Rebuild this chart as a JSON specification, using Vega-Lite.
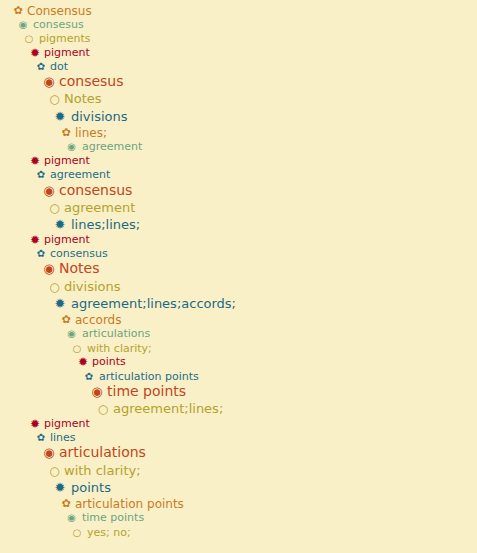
{
  "$schema": "https://vega.github.io/schema/vega-lite/v6.json",
  "description": "Nested outline of notes on consensus and pigments",
  "width": 477,
  "height": 553,
  "padding": 0,
  "autosize": {"type": "none"},
  "data": {
    "values": [
      {"row": 1, "depth": 0, "label": "Consensus"},
      {"row": 2, "depth": 1, "label": "consesus"},
      {"row": 3, "depth": 2, "label": "pigments"},
      {"row": 4, "depth": 3, "label": "pigment"},
      {"row": 5, "depth": 4, "label": "dot"},
      {"row": 6, "depth": 5, "label": "consesus"},
      {"row": 7, "depth": 6, "label": "Notes"},
      {"row": 8, "depth": 7, "label": "divisions"},
      {"row": 9, "depth": 8, "label": "lines;"},
      {"row": 10, "depth": 9, "label": "agreement"},
      {"row": 11, "depth": 3, "label": "pigment"},
      {"row": 12, "depth": 4, "label": "agreement"},
      {"row": 13, "depth": 5, "label": "consensus"},
      {"row": 14, "depth": 6, "label": "agreement"},
      {"row": 15, "depth": 7, "label": "lines;lines;"},
      {"row": 16, "depth": 3, "label": "pigment"},
      {"row": 17, "depth": 4, "label": "consensus"},
      {"row": 18, "depth": 5, "label": "Notes"},
      {"row": 19, "depth": 6, "label": "divisions"},
      {"row": 20, "depth": 7, "label": "agreement;lines;accords;"},
      {"row": 21, "depth": 8, "label": "accords"},
      {"row": 22, "depth": 9, "label": "articulations"},
      {"row": 23, "depth": 10, "label": "with clarity;"},
      {"row": 24, "depth": 11, "label": "points"},
      {"row": 25, "depth": 12, "label": "articulation points"},
      {"row": 26, "depth": 13, "label": "time points"},
      {"row": 27, "depth": 14, "label": "agreement;lines;"},
      {"row": 28, "depth": 3, "label": "pigment"},
      {"row": 29, "depth": 4, "label": "lines"},
      {"row": 30, "depth": 5, "label": "articulations"},
      {"row": 31, "depth": 6, "label": "with clarity;"},
      {"row": 32, "depth": 7, "label": "points"},
      {"row": 33, "depth": 8, "label": "articulation points"},
      {"row": 34, "depth": 9, "label": "time points"},
      {"row": 35, "depth": 10, "label": "yes; no;"}
    ]
  },
  "transform": [
    {"calculate": "datum.depth % 8", "as": "level"},
    {"calculate": "['✿', '◉', '○', '✹'][datum.depth % 4]", "as": "glyph"}
  ],
  "encoding": {
    "y": {
      "field": "row",
      "type": "quantitative",
      "axis": null,
      "scale": {
        "zero": false,
        "nice": false,
        "domain": [1, 2, 3, 4, 5, 6, 7, 8, 9, 10, 11, 12, 13, 14, 15, 16, 17, 18, 19, 20, 21, 22, 23, 24, 25, 26, 27, 28, 29, 30, 31, 32, 33, 34, 35],
        "range": [10.7, 25, 39, 53, 67, 82, 99, 117, 133, 147, 161, 175, 191, 208, 225, 240, 254, 269, 287, 304, 320, 334, 349, 362, 377, 392, 409, 424, 438, 453, 471, 488, 504, 518, 533]
      }
    },
    "color": {
      "field": "level",
      "type": "nominal",
      "legend": null,
      "scale": {
        "domain": [0, 1, 2, 3, 4, 5, 6, 7],
        "range": ["#c97c1d", "#6aa57e", "#b3a22c", "#a8001e", "#1d6e8a", "#c0461a", "#b3a22c", "#1a6a85"]
      }
    }
  },
  "layer": [
    {
      "mark": {"type": "text", "align": "center", "baseline": "middle", "font": "DejaVu Sans"},
      "encoding": {
        "x": {
          "field": "depth",
          "type": "quantitative",
          "axis": null,
          "scale": {
            "zero": false,
            "nice": false,
            "domain": [0, 1, 2, 3, 4, 5, 6, 7, 8, 9, 10, 11, 12, 13, 14],
            "range": [18, 23, 29, 35, 41, 49, 54.5, 60, 66, 71.5, 77, 83, 89, 97, 103]
          }
        },
        "text": {"field": "glyph"},
        "size": {
          "field": "level",
          "type": "quantitative",
          "legend": null,
          "scale": {"zero": false, "nice": false, "domain": [0, 1, 2, 3, 4, 5, 6, 7], "range": [11, 10, 10, 12, 10, 13, 12, 13]}
        }
      }
    },
    {
      "mark": {"type": "text", "align": "left", "baseline": "middle", "font": "DejaVu Sans"},
      "encoding": {
        "x": {
          "field": "depth",
          "type": "quantitative",
          "axis": null,
          "scale": {
            "zero": false,
            "nice": false,
            "domain": [0, 1, 2, 3, 4, 5, 6, 7, 8, 9, 10, 11, 12, 13, 14],
            "range": [27, 33, 39, 44, 50, 59, 64, 71, 75, 82, 87, 92, 99, 107, 113]
          }
        },
        "text": {"field": "label"},
        "size": {
          "field": "level",
          "type": "quantitative",
          "legend": null,
          "scale": {"zero": false, "nice": false, "domain": [0, 1, 2, 3, 4, 5, 6, 7], "range": [12, 11, 11, 11, 11, 14, 13, 13]}
        }
      }
    }
  ],
  "resolve": {"scale": {"x": "independent", "size": "independent"}},
  "config": {"background": "#faf0c8", "view": {"stroke": null}}
}
